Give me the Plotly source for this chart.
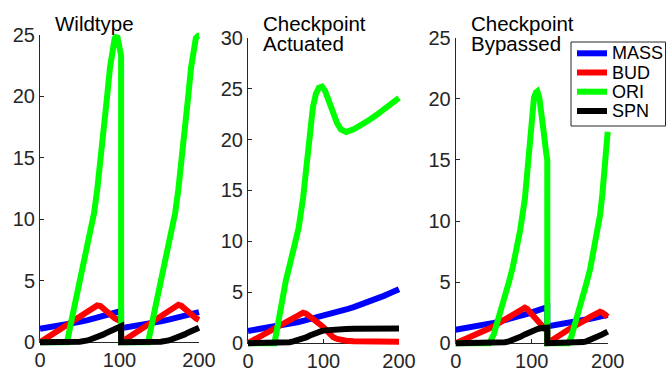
import plotly.graph_objects as go

# ---------------- data ----------------
series_names = ["MASS", "BUD", "ORI", "SPN"]
series_colors = ["#0000ff", "#ff0000", "#00ff00", "#000000"]
panel_titles = [["Wildtype"], ["Checkpoint", "Actuated"], ["Checkpoint", "Bypassed"]]
x_ticks = [0, 100, 200]
y_ticks_wt = [0, 5, 10, 15, 20, 25]
y_ticks_act = [0, 5, 10, 15, 20, 25, 30]
y_ticks_byp = [0, 5, 10, 15, 20, 25]

# Wildtype
t_wt = [0, 10, 20, 30, 34, 40, 50, 60, 68, 72, 76, 80, 84, 88, 91, 94, 97, 100, 102,
        102, 112, 122, 132, 136, 142, 152, 162, 170, 174, 178, 182, 186, 190, 193, 196, 199, 200]
mass_wt = [1.1, 1.19, 1.29, 1.41, 1.45, 1.53, 1.66, 1.8, 1.92, 1.98, 2.05, 2.12, 2.19, 2.26, 2.32, 2.38, 2.44, 2.5, 2.54,
           1.15, 1.24, 1.34, 1.45, 1.5, 1.57, 1.7, 1.84, 1.96, 2.02, 2.08, 2.14, 2.21, 2.28, 2.33, 2.38, 2.43, 2.45]
bud_wt = [0, 0.42, 0.85, 1.28, 1.45, 1.7, 2.1, 2.5, 2.85, 3.0, 2.95, 2.7, 2.45, 2.2, 2.05, 1.95, 1.85, 1.75, 1.7,
          0, 0.42, 0.85, 1.28, 1.45, 1.7, 2.1, 2.5, 2.85, 3.05, 2.95, 2.7, 2.45, 2.2, 2.05, 1.95, 1.85, 1.82]
ori_wt = [0, 0, 0, 0, 0, 1.9, 4.9, 7.9, 10.5, 12.4, 14.6, 17.0, 19.7, 22.3, 23.9, 24.7, 24.9, 24.2, 23.3,
          0, 0, 0, 0, 0, 1.9, 4.9, 7.9, 10.5, 12.4, 14.6, 17.0, 19.7, 22.3, 23.9, 24.7, 24.9, 24.9]
spn_wt = [0, 0, 0, 0, 0, 0.01, 0.05, 0.15, 0.3, 0.4, 0.52, 0.64, 0.78, 0.92, 1.03, 1.13, 1.22, 1.28, 1.31,
          0, 0, 0, 0, 0, 0.01, 0.05, 0.15, 0.3, 0.4, 0.52, 0.64, 0.78, 0.92, 1.0, 1.08, 1.16, 1.18]

# Checkpoint Actuated
t_act = [0, 10, 20, 30, 35, 40, 45, 50, 55, 60, 67, 73, 77, 82, 86, 90, 94, 98, 102, 108, 113, 118, 123,
         130, 140, 150, 160, 170, 180, 190, 200]
mass_act = [1.2, 1.31, 1.42, 1.55, 1.61, 1.68, 1.75, 1.82, 1.89, 1.97, 2.08, 2.19, 2.26, 2.35, 2.42, 2.5, 2.57,
            2.64, 2.72, 2.84, 2.95, 3.05, 3.16, 3.31, 3.55, 3.8, 4.1, 4.37, 4.65, 4.97, 5.3]
bud_act = [0, 0.4, 0.8, 1.25, 1.45, 1.65, 1.85, 2.05, 2.25, 2.45, 2.75, 3.0, 2.9, 2.65, 2.45, 2.2, 1.98, 1.7,
           1.4, 0.85, 0.58, 0.42, 0.33, 0.25, 0.2, 0.18, 0.16, 0.15, 0.15, 0.15, 0.15]
ori_act = [0, 0, 0, 0, 0, 2.0, 4.5, 6.1, 7.6, 9.1, 11.3, 14.3, 17.1, 20.8, 23.2, 24.5, 25.1, 25.2, 24.8, 23.6,
           22.5, 21.6, 21.0, 20.75, 21.0, 21.4, 21.9, 22.4, 23.0, 23.5, 24.1]
spn_act = [0, 0, 0, 0, 0, 0, 0.02, 0.05, 0.1, 0.18, 0.3, 0.45, 0.57, 0.75, 0.9, 1.02, 1.12, 1.2, 1.26, 1.32,
           1.35, 1.37, 1.39, 1.4, 1.41, 1.42, 1.43, 1.43, 1.44, 1.44, 1.44]

# Checkpoint Bypassed
t_byp = [0, 10, 20, 32, 44, 50, 56, 60, 65, 70, 75, 80, 85, 91, 94, 97, 100, 103, 105.5, 107.5, 110, 113, 116, 119, 120.5,
         120.5, 126, 140, 148, 152, 159, 164, 168, 172, 177, 183, 187, 190, 193, 196, 198, 200]
mass_byp = [1.1, 1.19, 1.3, 1.43, 1.58, 1.66, 1.74, 1.8, 1.88, 1.96, 2.04, 2.13, 2.22, 2.33, 2.39, 2.45, 2.51, 2.58,
            2.63, 2.67, 2.72, 2.79, 2.86, 2.92, 2.95,
            1.38, 1.43, 1.57, 1.65, 1.7, 1.78, 1.84, 1.89, 1.94, 2.0, 2.08, 2.14, 2.18, 2.23, 2.27, 2.3, 2.33]
bud_byp = [0, 0.25, 0.5, 0.8, 1.2, 1.4, 1.6, 1.75, 1.93, 2.1, 2.3, 2.5, 2.7, 2.9, 2.8, 2.6, 2.4, 2.15, 1.95, 1.8,
           1.7, 1.58, 1.4, 1.1, 0.95,
           0, 0.25, 0.8, 1.1, 1.25, 1.45, 1.6, 1.8, 1.95, 2.15, 2.4, 2.55, 2.57, 2.5, 2.35, 2.25, 2.15]
ori_byp = [0, 0, 0, 0, 0, 0.7, 1.9, 2.8, 3.9, 5.0, 6.2, 7.6, 9.3, 11.8, 14.0, 16.4, 18.6, 20.1, 20.5, 20.6, 20.1,
           18.9, 17.2, 15.6, 15.0,
           0, 0, 0, 0, 0.5, 1.9, 3.0, 3.9, 4.9, 6.1, 7.9, 9.3, 10.5, 12.2, 14.0, 15.5, 17.3]
spn_byp = [0, 0, 0, 0, 0, 0, 0.02, 0.04, 0.08, 0.15, 0.25, 0.38, 0.52, 0.72, 0.82, 0.92, 1.0, 1.07, 1.12, 1.16,
           1.2, 1.23, 1.25, 1.27, 1.28,
           0, 0, 0, 0, 0, 0.02, 0.05, 0.09, 0.15, 0.26, 0.42, 0.55, 0.63, 0.72, 0.82, 0.88, 0.95]

panels_data = [
    (t_wt, [mass_wt, bud_wt, ori_wt, spn_wt], y_ticks_wt),
    (t_act, [mass_act, bud_act, ori_act, spn_act], y_ticks_act),
    (t_byp, [mass_byp, bud_byp, ori_byp, spn_byp], y_ticks_byp),
]

# ---------------- layout geometry (pixels) ----------------
W, H = 666, 368
FONT = "Liberation Sans, Arial, Helvetica, sans-serif"
AXC = "#262626"
geom = [
    dict(left=40, right=199, top=34.5, bottom=342.3),
    dict(left=248, right=399, top=37.7, bottom=343.2),
    dict(left=455.7, right=607.7, top=37.7, bottom=343.2),
]
PAD = 6


def fx(px):
    return px / W


def fy(py):
    return 1 - py / H


fig = go.Figure()
layout = dict(
    template="none",
    width=W, height=H, autosize=False,
    margin=dict(l=0, r=0, t=0, b=0, pad=0, autoexpand=False),
    paper_bgcolor="white", plot_bgcolor="rgba(0,0,0,0)",
    showlegend=False,
    font=dict(family=FONT, color="black"),
)

annotations = []
shapes = []

for i, (g, (t, ys, yt)) in enumerate(zip(geom, panels_data)):
    ymax = yt[-1]
    sx = (g["right"] - g["left"]) / 200.0
    sy = (g["bottom"] - g["top"]) / ymax
    # display axes (ids 1..3), drawn first so the data lie on top of them
    dn = i + 1
    dsuf = "" if dn == 1 else str(dn)
    layout["xaxis" + dsuf] = dict(
        domain=[fx(g["left"]), fx(g["right"])], range=[0, 200], anchor="y" + dsuf,
        autorange=False, automargin=False,
        showline=True, linecolor=AXC, linewidth=1, ticks="inside", ticklen=4, tickcolor=AXC,
        tickvals=x_ticks, ticktext=[str(v) for v in x_ticks],
        tickfont=dict(size=20, color=AXC, family=FONT),
        showgrid=False, zeroline=False, fixedrange=True,
    )
    layout["yaxis" + dsuf] = dict(
        domain=[fy(g["bottom"]), fy(g["top"])], range=[0, ymax], anchor="x" + dsuf,
        autorange=False, automargin=False,
        showline=True, linecolor=AXC, linewidth=1, ticks="inside", ticklen=4, tickcolor=AXC,
        tickvals=yt, ticktext=[str(v) for v in yt],
        tickfont=dict(size=20, color=AXC, family=FONT),
        showgrid=False, zeroline=False, fixedrange=True,
    )
    # an invisible copy of one series registers the display axes with plotly
    fig.add_trace(go.Scatter(
        x=t, y=ys[0], mode="lines", line=dict(width=0, color="rgba(0,0,0,0)"),
        opacity=0, xaxis="x" + dsuf, yaxis="y" + dsuf, showlegend=False, hoverinfo="skip",
    ))
    # data axes (ids 4..6), padded so thick lines are not clipped
    n = i + 4
    layout["xaxis" + str(n)] = dict(
        domain=[fx(g["left"] - PAD), fx(g["right"] + PAD)],
        range=[-PAD / sx, 200 + PAD / sx], anchor="y" + str(n), autorange=False,
        automargin=False, visible=False, showgrid=False, zeroline=False,
    )
    layout["yaxis" + str(n)] = dict(
        domain=[fy(g["bottom"] + PAD), fy(g["top"] - PAD)],
        range=[-PAD / sy, ymax + PAD / sy], anchor="x" + str(n), autorange=False,
        automargin=False, visible=False, showgrid=False, zeroline=False,
    )

for i, (g, (t, ys, yt)) in enumerate(zip(geom, panels_data)):
    n = i + 4
    for name, col, y in zip(series_names, series_colors, ys):
        fig.add_trace(go.Scatter(
            x=t, y=y, mode="lines", name=name,
            line=dict(color=col, width=6),
            xaxis="x" + str(n), yaxis="y" + str(n), showlegend=False, hoverinfo="skip",
        ))
    # titles (left aligned, MATLAB style)
    for k, line in enumerate(panel_titles[i]):
        annotations.append(dict(
            text=line, xref="paper", yref="paper",
            x=fx(g["left"] + 13), y=fy(23.5 + 20 * k),
            xanchor="left", yanchor="middle", showarrow=False,
            font=dict(size=20.5, color="black", family=FONT),
        ))

# legend box (drawn manually to match MATLAB metrics)
lx0, lx1, ly0, ly1 = 571, 665.5, 42, 126
shapes.append(dict(type="rect", xref="paper", yref="paper",
                   x0=fx(lx0), x1=fx(lx1), y0=fy(ly1), y1=fy(ly0),
                   line=dict(color=AXC, width=1), fillcolor="white", layer="above"))
rows = [53.3, 72.5, 91.7, 111]
for name, col, ry in zip(series_names, series_colors, rows):
    shapes.append(dict(type="line", xref="paper", yref="paper",
                       x0=fx(577), x1=fx(607), y0=fy(ry), y1=fy(ry),
                       line=dict(color=col, width=6), layer="above"))
    annotations.append(dict(
        text=name, xref="paper", yref="paper", x=fx(610), y=fy(ry),
        xanchor="left", yanchor="middle", showarrow=False,
        font=dict(size=18, color="black", family=FONT),
    ))

layout["annotations"] = annotations
layout["shapes"] = shapes
fig.update_layout(**layout)
fig.write_html(
    "out.html",
    config={"displayModeBar": False},
    post_script="document.body.style.margin='0';document.body.style.overflow='hidden';",
)
